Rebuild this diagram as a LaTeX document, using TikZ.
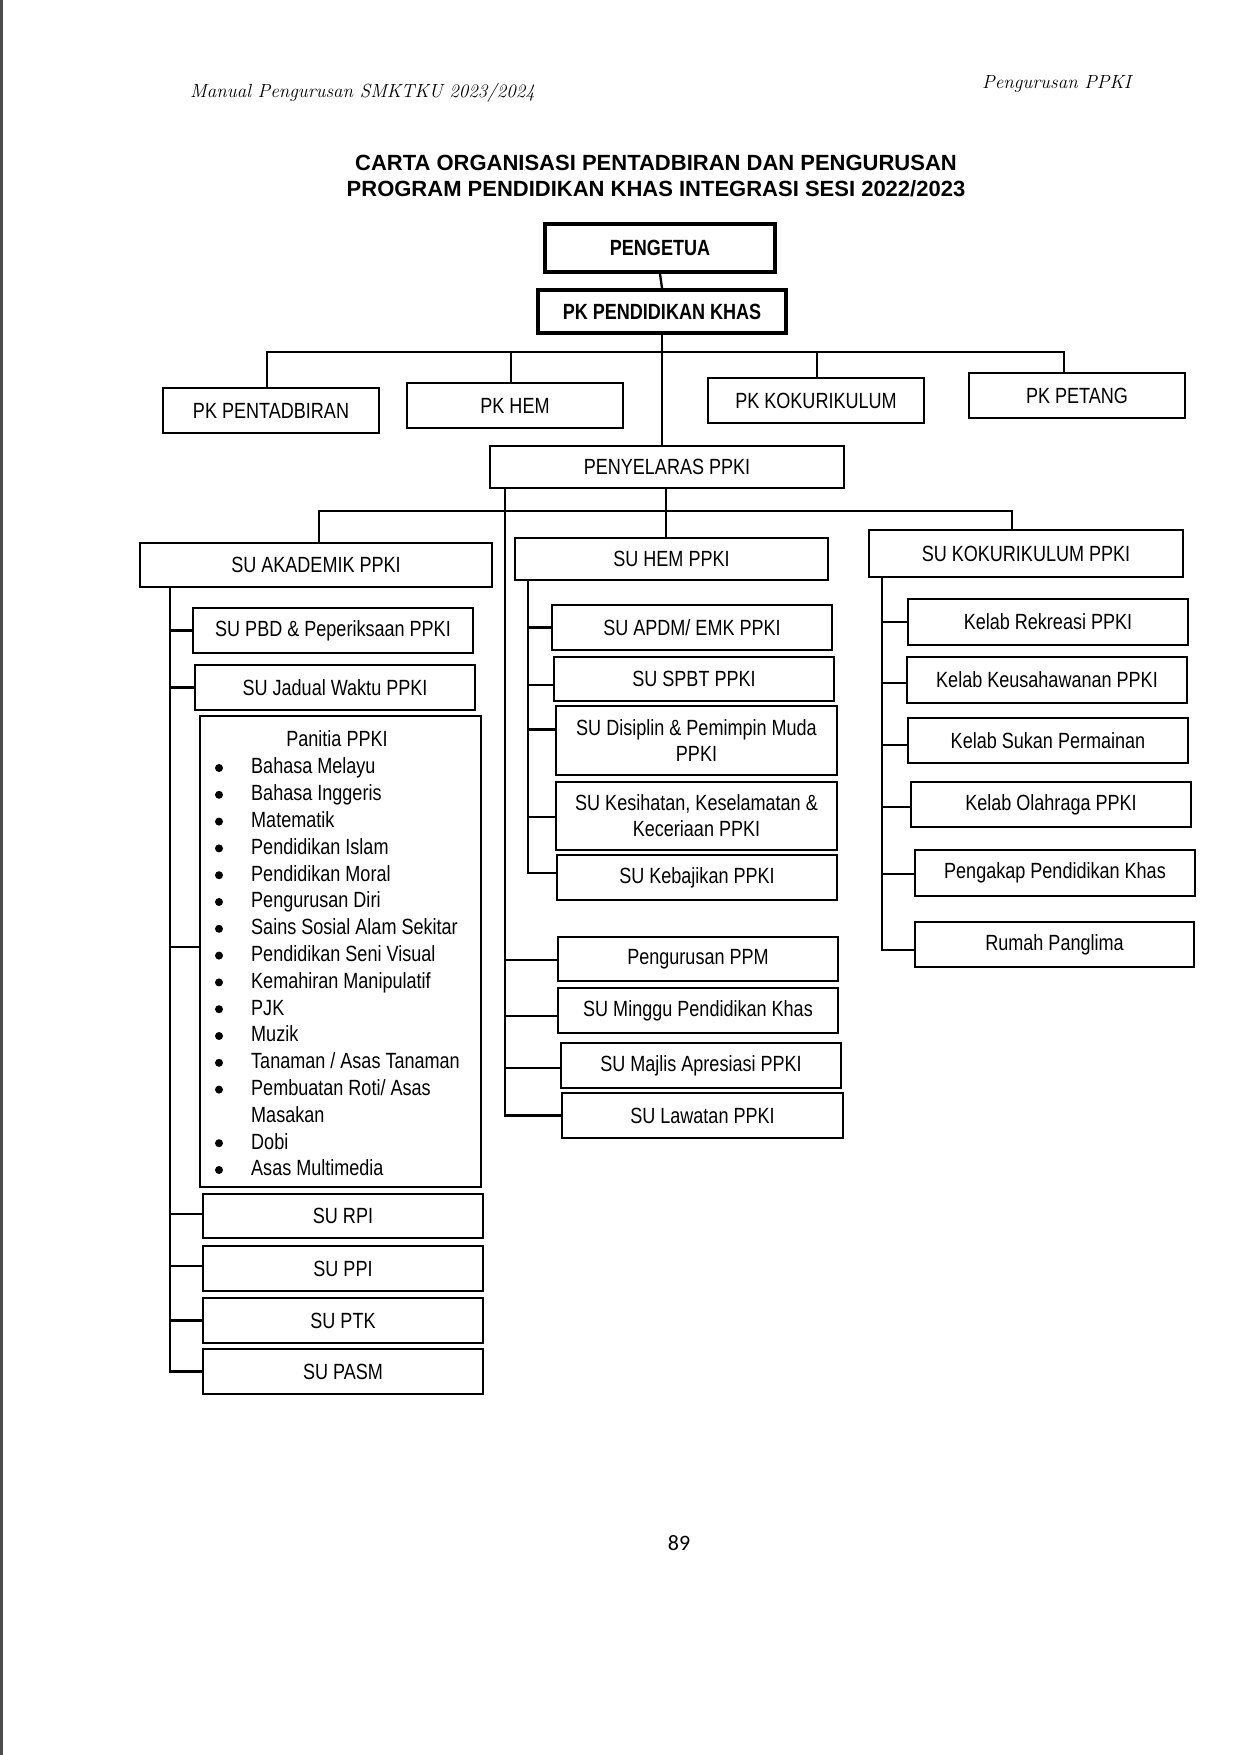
\documentclass[tikz,border=0pt]{standalone}
\usepackage{fontspec}
\newfontfamily\narrow{Liberation Sans}[FakeStretch=0.82]
\newfontfamily\wide{Liberation Sans}
\newfontfamily\carl{Carlito}
\usetikzlibrary{calc}
\newcommand{\obox}[7][]{\node[box,#1,minimum width={(#5)*1pt-(#3)*1pt},minimum height={(#6)*1pt-(#4)*1pt}] (#2) at ({(#3+#5)/2},{(#4+#6)/2}) {#7};}
\begin{document}
\begin{tikzpicture}[x=1pt,y=-1pt,
  box/.style={draw=black,line width=2.7pt,inner sep=0pt,align=center,
    font=\narrow\fontsize{22}{26}\selectfont},
  topbox/.style={line width=3.8pt},
  conn/.style={draw=black,line width=2.3pt,line join=miter},
  listtxt/.style={inner sep=0pt,font=\narrow\fontsize{22}{26}\selectfont}]
\useasboundingbox (0,0) rectangle (1242,1755);
\fill[white] (0,0) rectangle (1242,1755);
\draw[line width=3pt,black!70] (1.5,0) -- (1.5,1755);

% headers
\node[anchor=base west,inner sep=0pt,font=\itshape\fontsize{19}{22}\selectfont] (hdrl) at (190,98) {Manual Pengurusan SMKTKU 2023/2024};
\node[anchor=base west,inner sep=0pt,font=\itshape\fontsize{19}{22}\selectfont] (hdrr) at (982,89) {Pengurusan PPKI};
\node[align=center,inner sep=0pt,font=\wide\bfseries\fontsize{22}{26}\selectfont] (title) at (656,176) {CARTA ORGANISASI PENTADBIRAN DAN PENGURUSAN\\PROGRAM PENDIDIKAN KHAS INTEGRASI SESI 2022/2023};

% boxes
\obox[topbox]{peng}{545}{224}{775}{272}{\bfseries PENGETUA}
\obox[topbox]{pkpk}{538}{290}{786}{333}{\bfseries PK PENDIDIKAN KHAS}
\obox{pkpt}{163}{388}{379}{433}{PK PENTADBIRAN}
\obox{pkhem}{407}{383}{623}{428}{PK HEM}
\obox{pkkok}{708}{378}{924}{423}{PK KOKURIKULUM}
\obox{pkpet}{969}{373}{1185}{418}{PK PETANG}
\obox{pyl}{490}{446}{844}{488}{PENYELARAS PPKI}
\obox{suak}{140}{543}{492}{587}{SU AKADEMIK PPKI}
\obox{suhem}{515}{538}{828}{580}{SU HEM PPKI}
\obox{sukok}{869}{530}{1183}{577}{SU KOKURIKULUM PPKI}
\obox{pbd}{193}{608}{473}{653}{SU PBD \& Peperiksaan PPKI}
\obox{jadual}{195}{665}{475}{710}{SU Jadual Waktu PPKI}
\obox{panitia}{200}{716}{481}{1187}{}
\obox{rpi}{203}{1194}{483}{1238}{SU RPI}
\obox{ppi}{203}{1246}{483}{1291}{SU PPI}
\obox{ptk}{203}{1298}{483}{1343}{SU PTK}
\obox{pasm}{203}{1349}{483}{1394}{SU PASM}
\obox{apdm}{552}{605}{832}{650}{SU APDM/ EMK PPKI}
\obox{spbt}{554}{657}{834}{701}{SU SPBT PPKI}
\obox{disiplin}{556}{706}{837}{775}{SU Disiplin \& Pemimpin Muda\\PPKI}
\obox{kesihatan}{556}{782}{837}{850}{SU Kesihatan, Keselamatan \&\\Keceriaan PPKI}
\obox{kebajikan}{557}{855}{837}{900}{SU Kebajikan PPKI}
\obox{ppm}{558}{937}{838}{981}{Pengurusan PPM}
\obox{minggu}{558}{988}{838}{1033}{SU Minggu Pendidikan Khas}
\obox{majlis}{561}{1043}{841}{1088}{SU Majlis Apresiasi PPKI}
\obox{lawatan}{562}{1093}{843}{1138}{SU Lawatan PPKI}
\obox{rekreasi}{908}{599}{1188}{645}{Kelab Rekreasi PPKI}
\obox{keusahawanan}{907}{657}{1187}{703}{Kelab Keusahawanan PPKI}
\obox{sukan}{908}{718}{1188}{763}{Kelab Sukan Permainan}
\obox{olahraga}{911}{782}{1191}{827}{Kelab Olahraga PPKI}
\obox{pengakap}{915}{850}{1195}{896}{Pengakap Pendidikan Khas}
\obox{rumah}{915}{922}{1194}{967}{Rumah Panglima}

% Panitia list
\node[listtxt,anchor=base] (ptitle) at (337,746) {Panitia PPKI};
\foreach \t [count=\k from 0] in {Bahasa Melayu,Bahasa Inggeris,Matematik,Pendidikan Islam,Pendidikan Moral,Pengurusan Diri,Sains Sosial Alam Sekitar,Pendidikan Seni Visual,Kemahiran Manipulatif,PJK,Muzik,Tanaman / Asas Tanaman,Pembuatan Roti/ Asas,Masakan,Dobi,Asas Multimedia}{
  \node[listtxt,anchor=base west] (pl\k) at (251,{766+26.8*\k+7.8}) {\t};
}
\foreach \k in {0,...,12,14,15}{
  \fill[black] (219,{768+26.8*\k}) circle (4pt);
}

% connectors top
\draw[conn] (peng.south) -- (pkpk.north);
\draw[conn] (pkpk.south) -- (pkpk.south |- pyl.north);
\coordinate (b1a) at (267,352);
\coordinate (b1b) at (511,352);
\coordinate (b1c) at (817,352);
\coordinate (b1d) at (1064,352);
\draw[conn] (b1a |- pkpt.north) -- (b1a) -- (b1d) -- (b1d |- pkpet.north);
\draw[conn] (b1b) -- (b1b |- pkhem.north);
\draw[conn] (b1c) -- (b1c |- pkkok.north);
\coordinate (b2a) at (319,511);
\coordinate (b2b) at (666,511);
\coordinate (b2c) at (1012,511);
\draw[conn] (b2a |- suak.north) -- (b2a) -- (b2c) -- (b2c |- sukok.north);
\draw[conn] (b2b |- pyl.south) -- (b2b |- suhem.north);

% stems
\coordinate (va) at (170,0);
\coordinate (vh) at (528,0);
\coordinate (vl) at (505,0);
\coordinate (vk) at (882,0);

\draw[conn] (suak.south -| va) |- (pasm.west);
\foreach \n/\d in {pbd/0,jadual/0,panitia/-4.5,rpi/-2,ppi/-2.5,ptk/0}{
  \coordinate (tt) at ($(\n.west)+(0,\d)$);
  \draw[conn] (va |- tt) -- (tt);
}
\draw[conn] (suhem.south -| vh) |- ($(kebajikan.west)+(0,-4.5)$);
\foreach \n/\d in {apdm/0,spbt/6,disiplin/-11,kesihatan/1}{
  \coordinate (tt) at ($(\n.west)+(0,\d)$);
  \draw[conn] (vh |- tt) -- (tt);
}
\draw[conn] (pyl.south -| vl) |- (lawatan.west);
\foreach \n/\d in {ppm/1,minggu/5.5,majlis/2.5}{
  \coordinate (tt) at ($(\n.west)+(0,\d)$);
  \draw[conn] (vl |- tt) -- (tt);
}
\draw[conn] (sukok.south -| vk) |- ($(rumah.west)+(0,5.5)$);
\foreach \n/\d in {rekreasi/0,keusahawanan/3,sukan/4.5,olahraga/2.5,pengakap/1}{
  \coordinate (tt) at ($(\n.west)+(0,\d)$);
  \draw[conn] (vk |- tt) -- (tt);
}

\node[inner sep=0pt,font=\carl\fontsize{22}{24}\selectfont] (pg) at (679,1543) {89};
\end{tikzpicture}
\end{document}
